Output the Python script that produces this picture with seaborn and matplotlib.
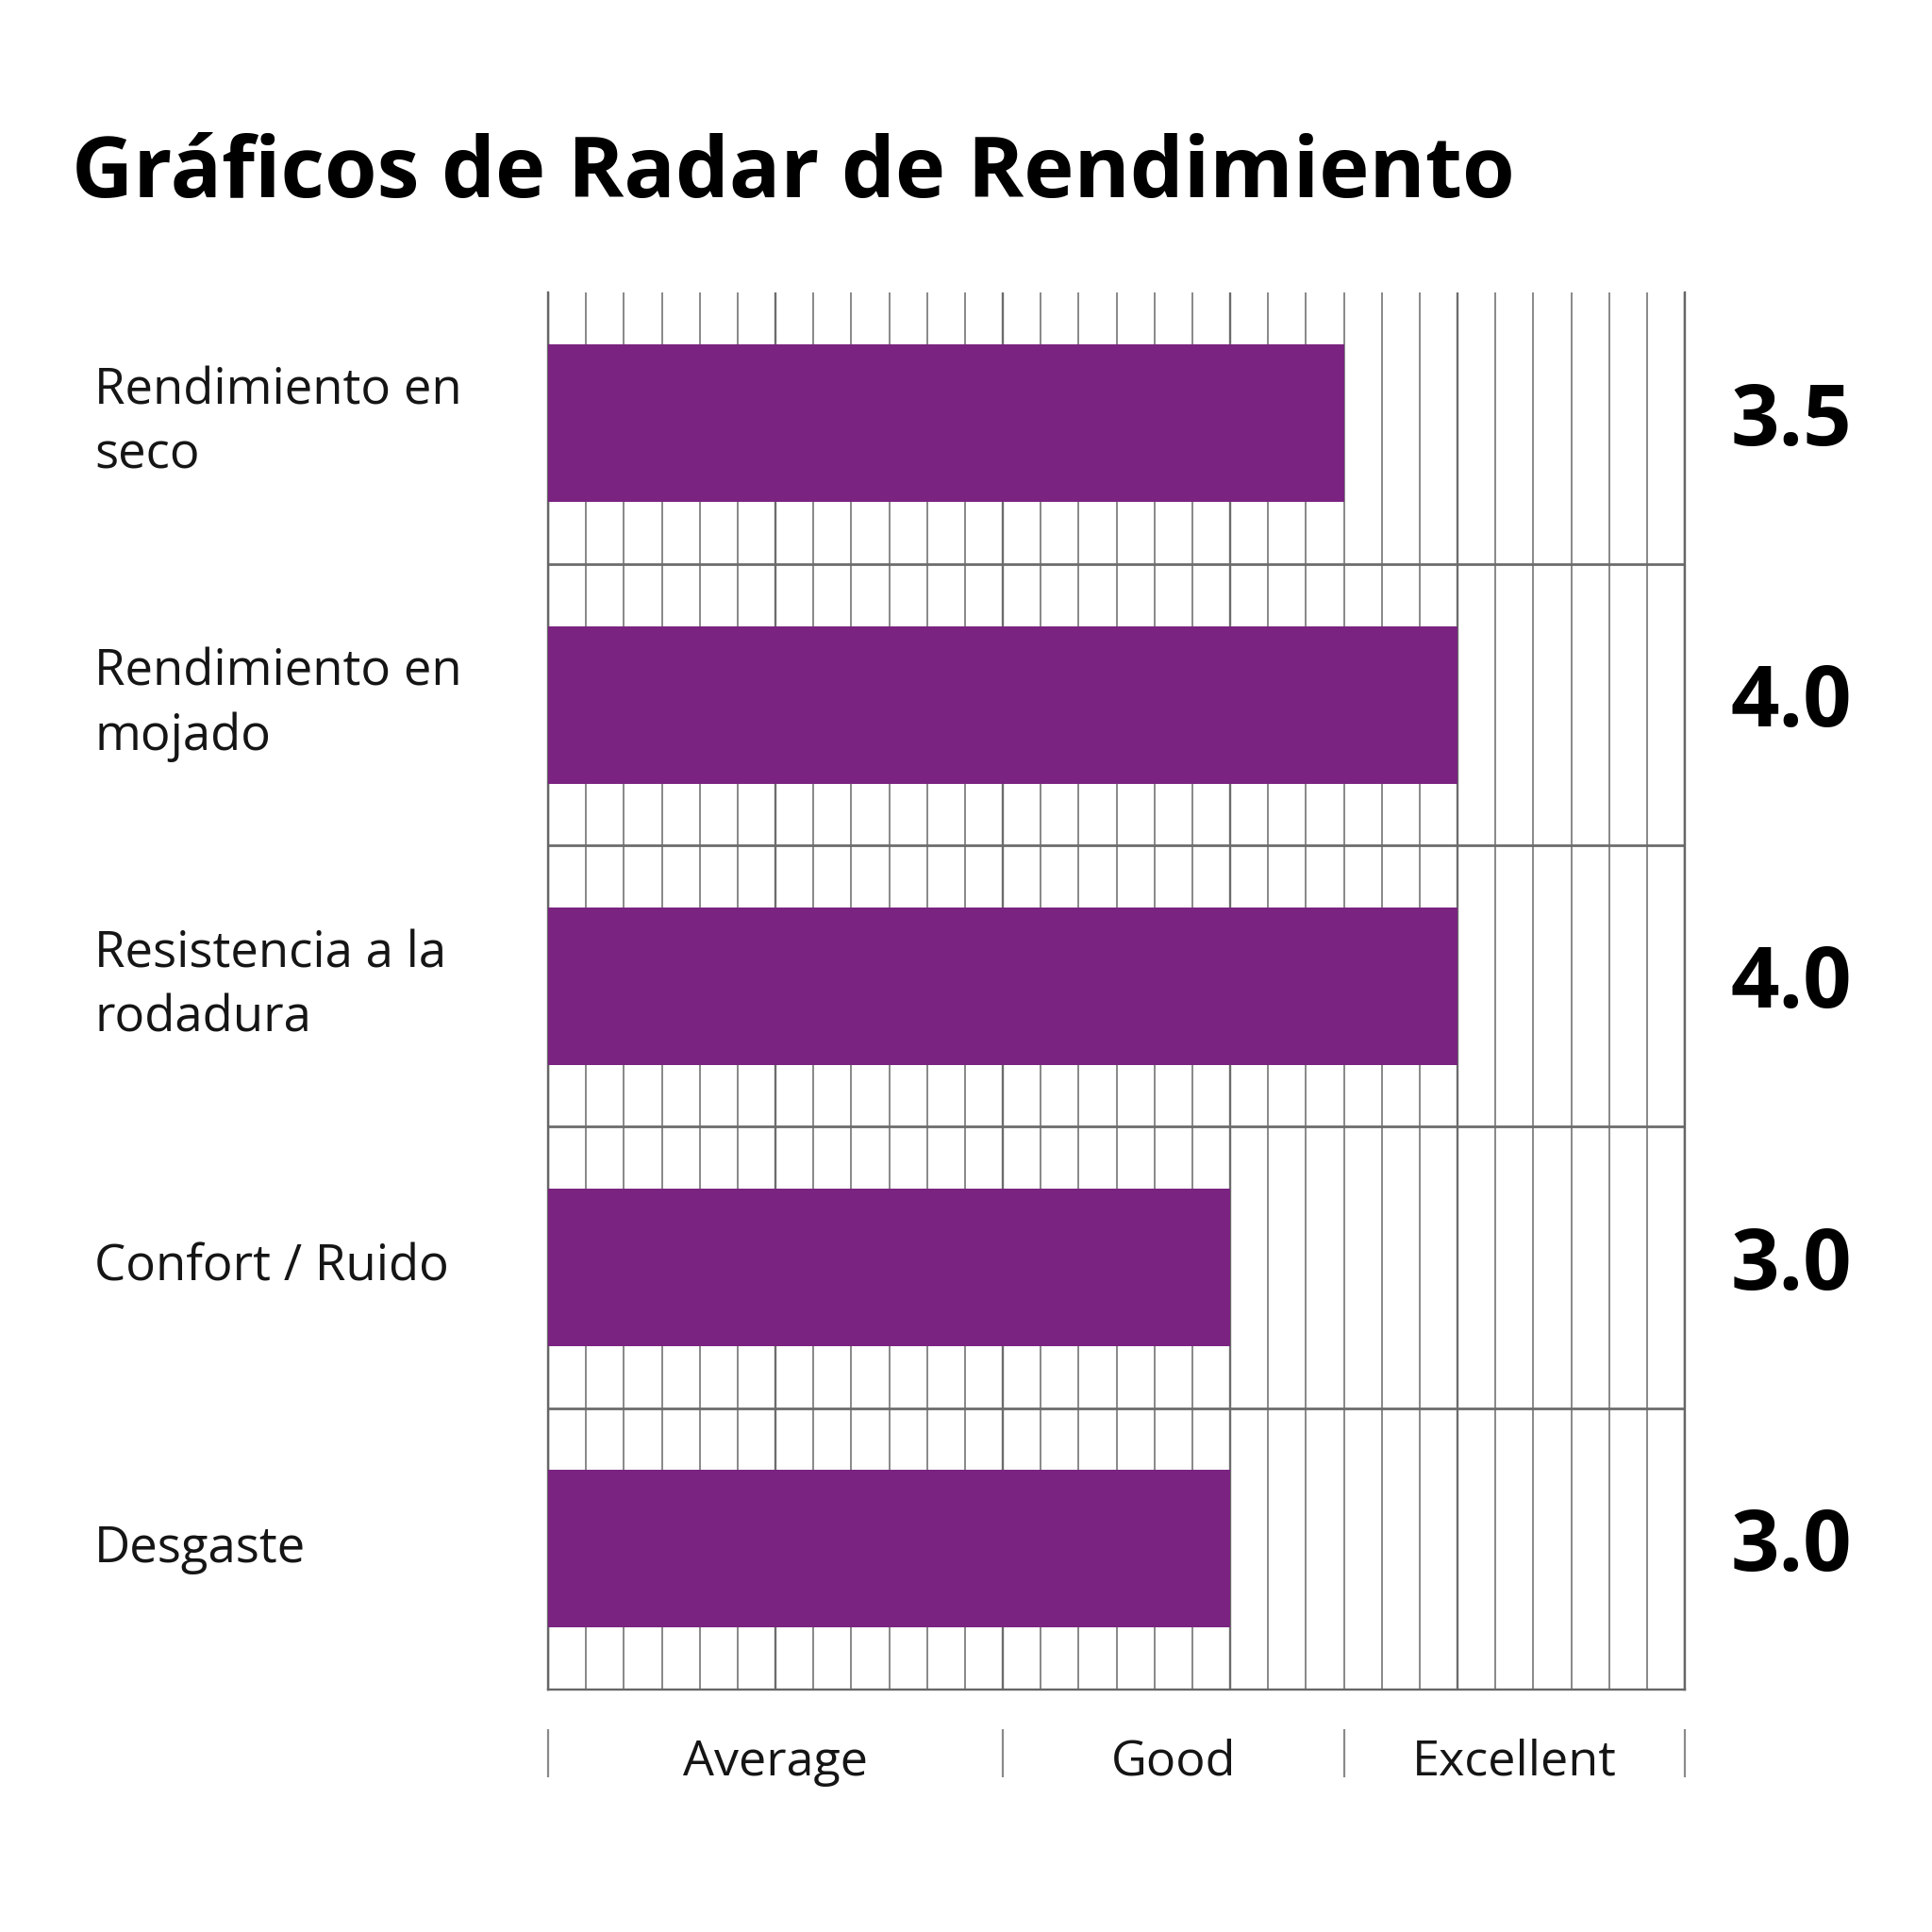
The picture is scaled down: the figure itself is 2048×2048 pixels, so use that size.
import numpy as np
import matplotlib
matplotlib.use("Agg")
import matplotlib.pyplot as plt
import matplotlib.transforms as mtransforms
import seaborn as sns

# data
criteria = [
    "Rendimiento en\nseco",
    "Rendimiento en\nmojado",
    "Resistencia a la\nrodadura",
    "Confort / Ruido",
    "Desgaste",
]
scores = [3.5, 4.0, 4.0, 3.0, 3.0]
score_labels = ["3.5", "4.0", "4.0", "3.0", "3.0"]
rating_names = ["Average", "Good", "Excellent"]
rating_edges = [0, 2, 3.5, 5]
title = "Gráficos de Radar de Rendimiento"

bar_color = "#7a2380"
text_color = "#151515"

sns.set_theme(style="white")
plt.rcParams["font.family"] = ["Open Sans", "DejaVu Sans"]

fig = plt.figure(figsize=(20.48, 20.48), dpi=100)
ax = fig.add_axes([0.2837, 0.1255, 0.5884, 0.7231])

sns.barplot(x=scores, y=criteria, orient="h", color=bar_color, saturation=1,
            width=0.56, edgecolor="none", linewidth=0, ax=ax, zorder=3)

ax.set_xlim(0, 5)
ax.set_ylim(len(criteria) - 0.5, -0.465)
ax.set_axisbelow(True)

# fine grid: 6 cells per point, band separators between rows
ax.set_xticks(np.arange(0, 6))
ax.set_xticks(np.arange(31) / 6, minor=True)
ax.set_yticks(np.arange(len(criteria)))
ax.set_yticks(np.arange(len(criteria) - 1) + 0.5, minor=True)
ax.set_xticklabels([])
ax.set_yticklabels([])
ax.tick_params(which="both", length=0)
ax.grid(which="major", axis="x", color="#6c6c6c", lw=1.7)
ax.grid(which="minor", axis="x", color="#888888", lw=1.4)
ax.grid(which="minor", axis="y", color="#6c6c6c", lw=2.0)
ax.grid(which="major", axis="y", visible=False)
ax.set_xlabel("")
ax.set_ylabel("")

for side in ["left", "bottom", "right"]:
    ax.spines[side].set_color("#666666")
    ax.spines[side].set_linewidth(1.7)
ax.spines["top"].set_visible(False)

# category names on the left
trans = mtransforms.blended_transform_factory(fig.transFigure, ax.transData)
for i, name in enumerate(criteria):
    ax.text(0.049, i, name, transform=trans, ha="left", va="center",
            fontsize=38, color=text_color, linespacing=1.36)

# score values on the right
for i, lab in enumerate(score_labels):
    ax.text(1.0938, i, lab, transform=ax.get_yaxis_transform(), ha="center",
            va="center", fontsize=65, fontweight="bold", color="black")

# rating scale below the axis
ax.vlines(rating_edges, -0.0284, -0.0628, transform=ax.get_xaxis_transform(),
          clip_on=False, colors="#8a8a8a", lw=1.6)
for i, name in enumerate(rating_names):
    cx = (rating_edges[i] + rating_edges[i + 1]) / 2
    ax.text(cx, -0.0614, name, transform=ax.get_xaxis_transform(), ha="center",
            va="baseline", fontsize=37.5, color=text_color)

fig.text(0.037, 0.898, title, ha="left", va="baseline", fontsize=65,
         fontweight="bold", color="black")

fig.savefig("out.png", dpi=100, facecolor="white")
